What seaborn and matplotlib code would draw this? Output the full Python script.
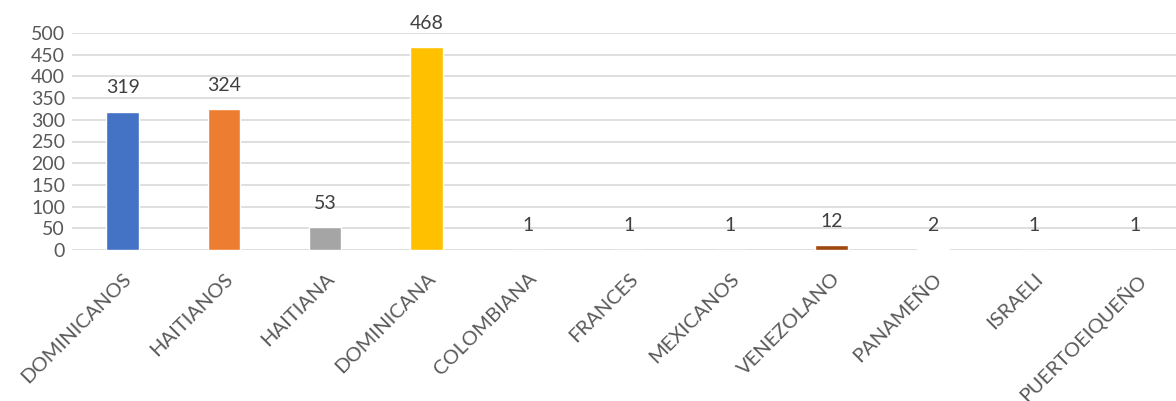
import matplotlib
matplotlib.use("Agg")
import matplotlib.pyplot as plt
import seaborn as sns
import pandas as pd

nacionalidades = ['DOMINICANOS', 'HAITIANOS', 'HAITIANA', 'DOMINICANA', 'COLOMBIANA',
                  'FRANCES', 'MEXICANOS', 'VENEZOLANO', 'PANAMEÑO', 'ISRAELI', 'PUERTOEIQUEÑO']
cantidades = [319, 324, 53, 468, 1, 1, 1, 12, 2, 1, 1]
colores = ['#4472C4', '#ED7D31', '#A5A5A5', '#FFC000', '#5B9BD5', '#70AD47',
           '#264478', '#9E480E', '#636363', '#997300', '#255E91']
y_ticks = list(range(0, 501, 50))

df = pd.DataFrame({'nacionalidad': nacionalidades, 'cantidad': cantidades})

sns.set_style('white')
plt.rcParams['font.family'] = ['Lato', 'DejaVu Sans']

fig = plt.figure(figsize=(11.76, 4.01), dpi=100)
ax = fig.add_axes([72 / 1176, 151 / 401, 1104 / 1176, 217 / 401])

sns.barplot(data=df, x='nacionalidad', y='cantidad', hue='nacionalidad',
            palette=colores, saturation=1, legend=False, width=0.32, ax=ax, zorder=3)

ax.set_ylim(0, 500)
ax.set_xlim(-0.5, 10.4)
ax.set_yticks(y_ticks)
ax.set_yticklabels([str(t) for t in y_ticks], fontsize=14, color='#595959')
ax.yaxis.grid(True, color='#D9D9D9', linewidth=1.2, zorder=0)
ax.set_axisbelow(True)
for s in ax.spines.values():
    s.set_visible(False)
ax.tick_params(axis='both', length=0, pad=5)
ax.set_xlabel('')
ax.set_ylabel('')

ax.set_xticks(range(len(nacionalidades)))
ax.set_xticklabels(nacionalidades, rotation=45, ha='right', rotation_mode='anchor',
                   fontsize=14.5, color='#595959')
for lbl in ax.get_xticklabels():
    lbl.set_y(-0.06)
    lbl.set_x(0.05)

for i, v in enumerate(cantidades):
    ax.annotate(str(v), (i, v), xytext=(0, 17), textcoords='offset points',
                ha='center', va='center', fontsize=14, color='#404040',
                annotation_clip=False)

fig.savefig('out.png', dpi=100)
